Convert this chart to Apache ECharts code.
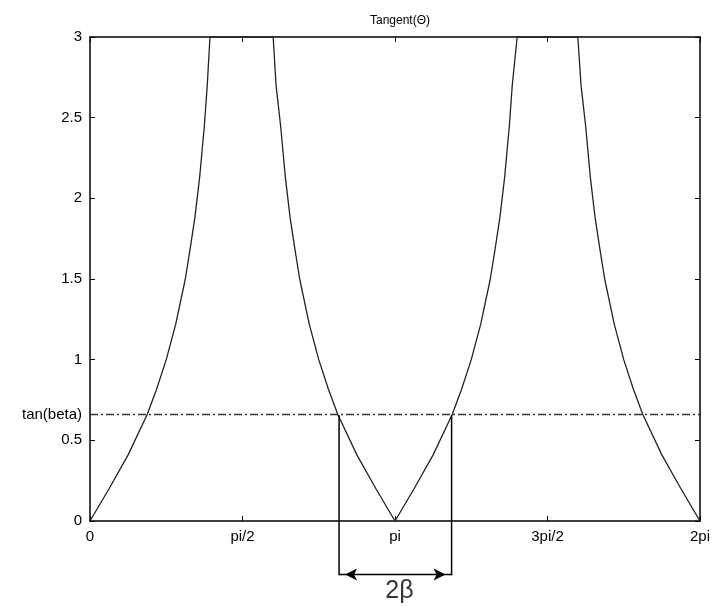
<!DOCTYPE html>
<html>
<head>
<meta charset="utf-8">
<script src="https://cdn.jsdelivr.net/npm/echarts@6/dist/echarts.min.js"></script>
<style>
  html, body { margin: 0; padding: 0; background: #fff; }
  #chart { width: 713px; height: 606px; }
</style>
</head>
<body>
<div id="chart"></div>
<script>
// theta in degrees (0..360 == 0..2pi), |tan(theta)|
const thetaDeg = [0, 11.25, 22.5, 33.75, 39.4, 45, 50.6, 56.25, 59, 61.9, 64.7, 67.5, 69.2, 70.8,
  108.1, 109.8, 112.5, 115.3, 118.1, 121, 123.75, 129.4, 135, 140.6, 146.25, 157.5, 168.75, 180,
  191.25, 202.5, 213.75, 219.4, 225, 230.6, 236.25, 239, 241.9, 244.7, 247.5, 249.2, 252.1,
  287.9, 289.8, 292.5, 295.3, 298.1, 301, 303.75, 309.4, 315, 320.6, 326.25, 337.5, 348.75, 360];
const tanAbs = [0, 0.2, 0.41, 0.66, 0.82, 1.0, 1.22, 1.5, 1.68, 1.88, 2.13, 2.45, 2.7, 3,
  3, 2.7, 2.45, 2.13, 1.88, 1.68, 1.5, 1.22, 1.0, 0.82, 0.66, 0.41, 0.2, 0,
  0.2, 0.41, 0.66, 0.82, 1.0, 1.22, 1.5, 1.68, 1.88, 2.13, 2.45, 2.7, 3,
  3, 2.7, 2.45, 2.13, 1.88, 1.68, 1.5, 1.22, 1.0, 0.82, 0.66, 0.41, 0.2, 0];

const xTickValues = [0, 90, 180, 270, 360];
const xTickLabels = ['0', 'pi/2', 'pi', '3pi/2', '2pi'];

const tanBeta = 0.656;
const betaLeft = 147;     // pi - beta
const betaRight = 213.4;  // pi + beta
const dimBottom = -0.337; // extension lines go below the axis
const arrowY = -0.331;
const dimLabelPos = [182.6, -0.437];

const font = 'Arial, "Liberation Sans", sans-serif';

const chart = echarts.init(document.getElementById('chart'));

const frameAxis = {
  min: 0,
  axisLine: { show: true, onZero: false, lineStyle: { color: '#000', width: 1.5 } },
  axisTick: { show: true, inside: true, length: 5, lineStyle: { color: '#000', width: 1 } },
  splitLine: { show: false },
};

chart.setOption({
  animation: false,
  backgroundColor: '#fff',
  title: {
    text: 'Tangent(Θ)',
    left: 395,
    textAlign: 'center',
    top: 10,
    textStyle: { fontSize: 12, fontWeight: 'normal', color: '#000', fontFamily: font },
  },
  grid: { left: 90, right: 12, top: 37, bottom: 85 },
  xAxis: [
    {
      ...frameAxis,
      type: 'value',
      max: 360,
      interval: 90,
      position: 'bottom',
      axisLabel: {
        color: '#000',
        fontSize: 15,
        fontFamily: font,
        margin: 8,
        formatter: (v) => xTickLabels[xTickValues.indexOf(Math.round(v))] ?? '',
      },
    },
    {
      ...frameAxis,
      type: 'value',
      max: 360,
      interval: 90,
      position: 'top',
      axisLabel: { show: false },
    },
  ],
  yAxis: [
    {
      ...frameAxis,
      type: 'value',
      max: 3,
      interval: 0.5,
      position: 'left',
      axisLabel: { color: '#000', fontSize: 15, fontFamily: font, margin: 8 },
    },
    {
      ...frameAxis,
      type: 'value',
      max: 3,
      interval: 0.5,
      position: 'right',
      axisLabel: { show: false },
    },
  ],
  series: [
    {
      type: 'line',
      data: thetaDeg.map((t, i) => [t, tanAbs[i]]),
      symbol: 'none',
      lineStyle: { color: '#222', width: 1.3 },
      markLine: {
        silent: true,
        symbol: 'none',
        data: [{ yAxis: tanBeta }],
        lineStyle: { color: '#333', width: 1.3, type: [8, 3, 2, 3] },
        label: {
          position: 'start',
          distance: 8,
          formatter: 'tan(beta)',
          color: '#000',
          fontSize: 15,
          fontFamily: font,
        },
      },
    },
    {
      type: 'line',
      clip: false,
      symbol: 'none',
      data: [[betaLeft, tanBeta], [betaLeft, dimBottom]],
      lineStyle: { color: '#000', width: 1.5 },
    },
    {
      type: 'line',
      clip: false,
      symbol: 'none',
      data: [[betaRight, tanBeta], [betaRight, dimBottom]],
      lineStyle: { color: '#000', width: 1.5 },
    },
    {
      type: 'line',
      clip: false,
      symbol: 'arrow',
      symbolSize: [9, 12],
      data: [
        { value: [betaLeft, arrowY], symbolRotate: 90, symbolOffset: [6, 0] },
        { value: [betaRight, arrowY], symbolRotate: -90, symbolOffset: [-6, 0] },
      ],
      itemStyle: { color: '#000' },
      lineStyle: { color: '#000', width: 1.5 },
    },
    {
      type: 'scatter',
      clip: false,
      symbolSize: 1,
      data: [dimLabelPos],
      itemStyle: { color: 'rgba(0,0,0,0)' },
      label: {
        show: true,
        position: 'inside',
        formatter: '2β',
        color: '#000',
        fontSize: 25,
        fontFamily: font,
      },
    },
  ],
});
</script>
</body>
</html>
